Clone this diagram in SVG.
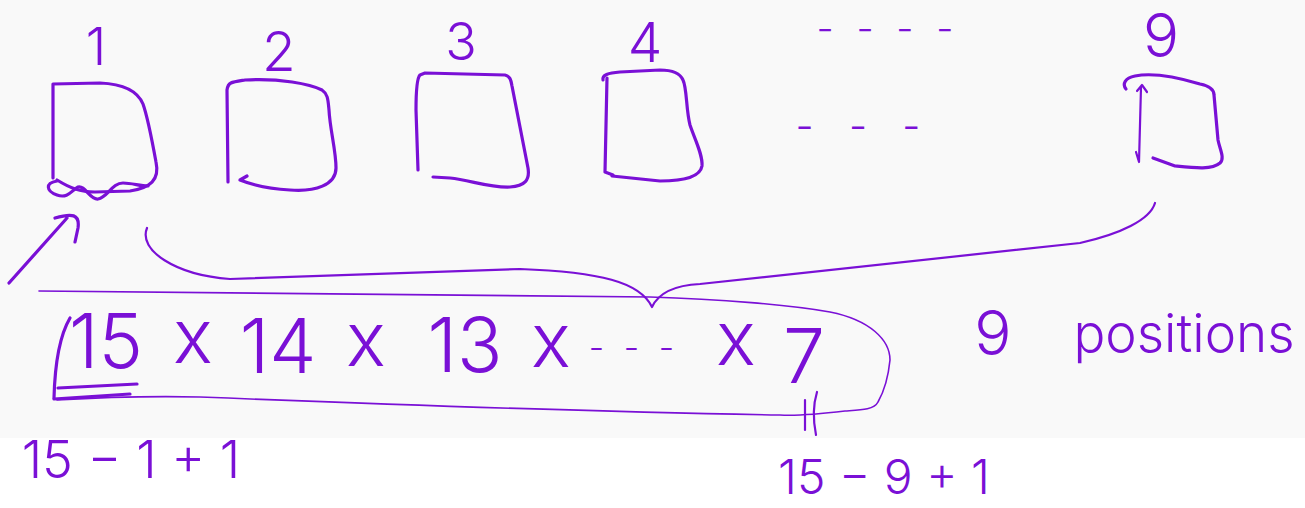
<svg xmlns="http://www.w3.org/2000/svg" width="1305" height="508" viewBox="0 0 1305 508">
<style>
.ink{fill:none;stroke:#7a10d6;stroke-width:3.2;stroke-linecap:round;stroke-linejoin:round}
.thin{fill:none;stroke:#7a10d6;stroke-width:1.6;stroke-linecap:round;stroke-linejoin:round}
.mid{fill:none;stroke:#7a10d6;stroke-width:2.2;stroke-linecap:round;stroke-linejoin:round}
text{fill:#7a10d6;font-family:Inter,"Noto Sans","DejaVu Sans",sans-serif;font-weight:300;text-anchor:middle}
</style>
<rect x="0" y="0" width="1305" height="438" fill="#f9f9f9"/>
<rect x="0" y="438" width="1305" height="70" fill="#ffffff"/>

<g id="box1">
<text x="96" y="65" font-size="52">1</text>
<path class="ink" d="M53 178 L53 84 L100 83 C125 84 138 92 143 104 C148 118 152 140 156 162 C160 180 150 188 130 191 L95 192 C80 192 70 188 57 180"/>
<path class="ink" d="M57 181 C45 183 46 191 57 195 C68 199 72 190 78 187 C85 185 90 200 98 199 C108 197 112 183 123 183 C132 183 140 186 148 186"/>
</g>

<g id="box2">
<text x="279" y="71" font-size="55">2</text>
<path class="ink" d="M228 182 L227 90 C228 82 232 82 245 80 C280 78 310 84 322 90 C328 94 328 100 329 110 C330 130 336 150 336 168 C336 185 315 192 290 190 C270 189 255 186 240 180 L247 176"/>
</g>

<g id="box3">
<text x="461" y="60" font-size="52">3</text>
<path class="ink" d="M418 170 L416 110 C416 90 417 78 420 75 L425 73 L505 75 C510 76 511 80 512 86 L528 168 C530 180 525 186 510 187 C490 188 470 180 450 178 L433 177"/>
</g>

<g id="box4">
<text x="645" y="62" font-size="55">4</text>
<path class="ink" d="M603 80 C602 75 608 73 620 72 L660 70 C672 70 680 73 683 80 C687 88 686 110 690 125 C695 140 703 155 702 166 C700 178 680 181 660 181 L612 176"/>
<path class="ink" d="M607 78 L605 172 L613 175"/>
</g>

<g id="ellipsis">
<text x="888" y="42" font-size="38" letter-spacing="6">- - - -</text>
<text x="864" y="140" font-size="40" letter-spacing="12">- - -</text>
</g>

<g id="box9">
<text x="1161" y="57" font-size="60">9</text>
<path class="ink" d="M1126 89 C1122 84 1125 78 1135 76 C1155 72 1180 78 1200 84 C1210 86 1214 90 1214 95 L1218 140 C1220 150 1225 158 1220 163 C1212 170 1195 168 1175 166 L1153 158"/>
<path class="mid" d="M1141 87 L1139 162 M1137 91 L1142 85 L1147 92 M1136 152 L1139 162"/>
</g>

<g id="expression">
<text y="368" font-size="75"><tspan x="106">15</tspan><tspan x="193" y="363">x</tspan><tspan x="278" y="373">14</tspan><tspan x="366" y="366">x</tspan><tspan x="465" y="372">13</tspan><tspan x="551" y="367">x</tspan><tspan x="634" y="360" font-size="34" letter-spacing="5">- - -</tspan><tspan x="736" y="365">x</tspan><tspan x="804" y="383">7</tspan></text>
<path class="ink" d="M70 318 C60 335 55 360 54 398"/>
<path class="ink" d="M58 388 L137 384 M54 399 L130 394"/>
<path class="mid" d="M805 400 L805 430 M817 392 C813 405 813 420 816 435"/>
</g>

<g id="positions">
<text x="993" y="355" font-size="62">9</text>
<text x="1184" y="352" font-size="53">positions</text>
</g>

<g id="formula-left">
<text x="131" y="478" font-size="52">15 − 1 + 1</text>
</g>
<g id="formula-right">
<text x="884" y="494" font-size="48">15 − 9 + 1</text>
</g>

<g id="connectors">
<path class="mid" d="M147 228 C138 250 175 275 230 279 L520 269 C600 272 640 282 652 307 C660 290 680 285 700 284 L1080 243 C1120 234 1150 220 1155 203"/>
<path class="thin" d="M39 291 C200 291 400 296 650 297 C720 299 790 305 830 312 C870 320 890 340 890 360 C888 380 882 395 878 402 C874 410 860 410 845 411 C820 414 800 416 780 415 C600 412 400 405 200 397 C150 396 90 398 57 400"/>
<path class="ink" d="M9 283 L67 218 M55 218 C72 213 80 214 78 228 L75 242"/>
</g>
</svg>
